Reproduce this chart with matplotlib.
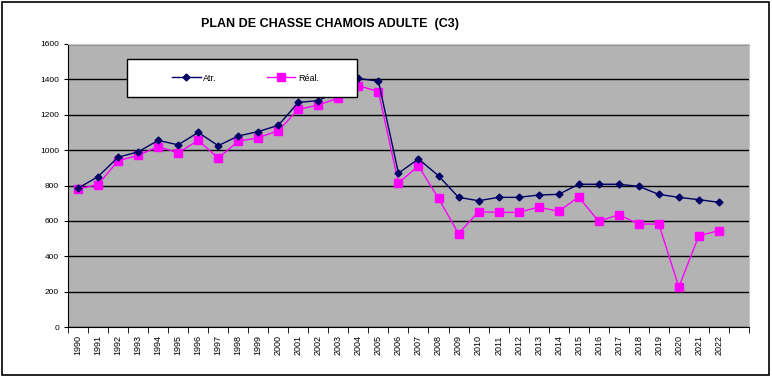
import matplotlib
matplotlib.use('Agg')
import matplotlib.pyplot as plt
from matplotlib.patches import Rectangle

plt.rcParams['font.family'] = ['Liberation Sans', 'DejaVu Sans']

years = [str(y) for y in range(1990, 2023)]
atr = [785, 850, 960, 990, 1055, 1030, 1100, 1025, 1080, 1105, 1140,
       1270, 1280, 1335, 1405, 1390, 870, 950, 855, 733, 714, 733,
       733, 746, 750, 807, 807, 807, 795, 750, 733, 720, 705]
real = [780, 805, 940, 970, 1020, 985, 1055, 955, 1050, 1070, 1110,
        1230, 1255, 1295, 1365, 1330, 815, 910, 727, 528, 652, 648,
        648, 678, 654, 735, 597, 635, 582, 582, 226, 516, 545]

fig = plt.figure(figsize=(7.72, 3.77), dpi=100)
ax = fig.add_axes([0.0881, 0.1326, 0.882, 0.7507])
ax.set_facecolor('#b3b3b3')

x = list(range(len(years)))
ax.plot(x, atr, color='#000066', lw=1.0, marker='D', ms=3.5,
        mfc='#000066', mec='#000066', label='Atr.', zorder=4)
ax.plot(x, real, color='#ff00ff', lw=1.0, marker='s', ms=6,
        mfc='#ff00ff', mec='#ff00ff', label='Réal.', zorder=3)

ax.set_xlim(-0.5, len(years) + 0.5)
ax.set_ylim(0, 1600)
ax.set_yticks(range(0, 1601, 200))
ax.set_xticks(x)
ax.set_xticklabels(years, rotation=90, fontsize=6.5)
ax.tick_params(axis='y', labelsize=6, length=3, direction='out')
ax.set_xticks([i - 0.5 for i in range(len(years) + 2)], minor=True)
ax.tick_params(axis='x', which='major', length=0, pad=6)
ax.tick_params(axis='x', which='minor', length=4, direction='out')
ax.yaxis.grid(True, color='black', lw=1.0)
ax.set_axisbelow(True)
for s in ['top', 'right']:
    ax.spines[s].set_color('#c8c8c8')
ax.spines['left'].set_color('black')
ax.spines['bottom'].set_color('black')

# legend box (white, black border) drawn over the plot area
fig.patches.append(Rectangle((0.1645, 0.7427), 0.2979, 0.1008,
                             transform=fig.transFigure, facecolor='white',
                             edgecolor='black', lw=1.0, zorder=9))
leg = fig.legend(loc='center', bbox_to_anchor=(0.318, 0.793), ncol=2,
                 fontsize=6.5, frameon=False, columnspacing=5.5,
                 handlelength=3.2, handletextpad=0.3, borderaxespad=0)
leg.set_zorder(10)

fig.text(0.4275, 0.936, 'PLAN DE CHASSE CHAMOIS ADULTE  (C3)', ha='center',
         va='center', fontsize=9, fontweight='bold')

fig.patches.append(Rectangle((0.002, 0.005), 0.994, 0.99, transform=fig.transFigure,
                             fill=False, edgecolor='black', lw=1.2))

fig.savefig('out.png', dpi=100, facecolor='white')
